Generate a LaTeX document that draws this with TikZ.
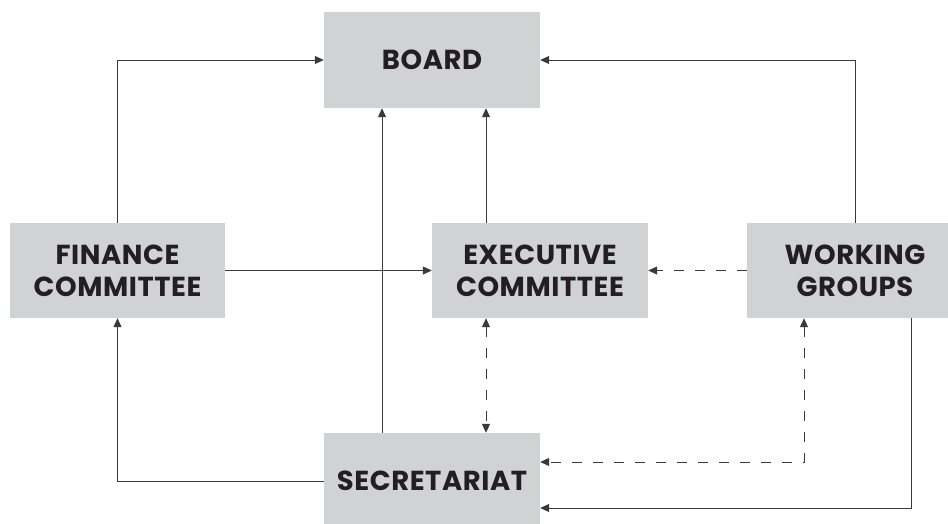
\documentclass[tikz,border=0pt]{standalone}
\usepackage{fontspec}
\setmainfont{Poppins}[LetterSpace=2]
\usetikzlibrary{arrows.meta}
\definecolor{boxgray}{HTML}{D1D2D4}
\definecolor{linegray}{HTML}{3A3A3A}
\definecolor{textblack}{HTML}{231F20}
\tikzset{
  box/.style={rectangle, fill=boxgray, minimum width=216pt, minimum height=96pt,
    inner sep=0pt, align=center, text=textblack,
    font=\fontsize{27.5}{32}\selectfont\bfseries},
  conn/.style={draw=linegray, line width=1pt, -{Triangle[length=9pt,width=8pt]}},
  dconn/.style={conn, dash pattern=on 10pt off 11pt},
  dbl/.style={draw=linegray, line width=1pt, dash pattern=on 10pt off 11pt,
    {Triangle[length=9pt,width=8pt]}-{Triangle[length=9pt,width=8pt]}}
}
\begin{document}
\begin{tikzpicture}[x=1pt,y=-1pt]
\useasboundingbox (0,0) rectangle (948,523);
\clip (0,0) rectangle (948,523);
\node[box] (board) at (432,60) {BOARD};
\node[box, minimum width=215pt, minimum height=95pt] (fin) at (117.5,270.5) {FINANCE\\COMMITTEE};
\node[box, minimum height=95pt] (exec) at (540,270.5) {EXECUTIVE\\COMMITTEE};
\node[box, minimum height=95pt] (wg) at (855,270.5) {WORKING\\GROUPS};
\node[box] (sec) at (432,481) {SECRETARIAT};
% connectors
\draw[conn] (fin.north) |- (board.west);
\draw[conn] (wg.north) |- (board.east);
\draw[conn] (fin.east) -- (exec.west);
\draw[dconn] (wg.west) -- (exec.east);
\draw[conn] ([xshift=-54pt]exec.north) -- ([xshift=-54pt]exec.north |- board.south);
\draw[conn] ([xshift=-50pt]sec.north) -- ([xshift=-50pt]sec.north |- board.south);
\draw[dbl] ([xshift=-54pt]exec.south) -- ([xshift=-54pt]exec.south |- sec.north);
\draw[conn] (sec.west) -| (fin.south);
\draw[dbl] ([xshift=-51pt]wg.south) |- ([yshift=19pt]sec.east);
\draw[conn] ([xshift=56pt]wg.south) |- ([yshift=-27pt]sec.east);
\end{tikzpicture}
\end{document}
